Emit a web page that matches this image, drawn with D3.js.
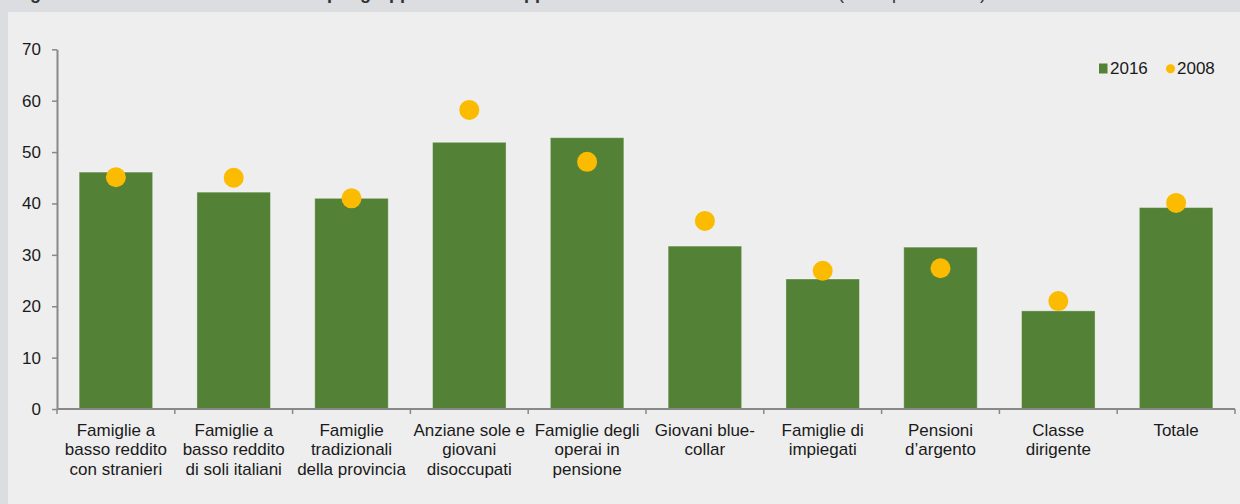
<!DOCTYPE html>
<html><head><meta charset="utf-8">
<script src="https://cdn.jsdelivr.net/npm/d3@7"></script>
<style>
body{margin:0;background:#dcdde0;overflow:hidden;}
svg{display:block;}
text{font-family:"Liberation Sans",Arial,sans-serif;}
</style>
</head><body>
<svg id="chart" width="1240" height="504"></svg>
<script>
const categories = [
  "Famiglie a|basso reddito|con stranieri",
  "Famiglie a|basso reddito|di soli italiani",
  "Famiglie|tradizionali|della provincia",
  "Anziane sole e|giovani|disoccupati",
  "Famiglie degli|operai in|pensione",
  "Giovani blue-|collar",
  "Famiglie di|impiegati",
  "Pensioni|d\u2019argento",
  "Classe|dirigente",
  "Totale"
];
const values2016 = [46.1, 42.2, 41.0, 51.9, 52.8, 31.7, 25.3, 31.5, 19.1, 39.2];
const values2008 = [45.1, 45.0, 41.0, 58.2, 48.1, 36.6, 26.9, 27.4, 21.0, 40.1];
const yTicks = [0, 10, 20, 30, 40, 50, 60, 70];
const seriesNames = ["2016", "2008"];
const titleParts = ["Figura 3 \u2013 Incidenza del rischio", "per gruppo sociale di appartenenza", "(valori percentuali)"];

const svg = d3.select("#chart");
const green = "#538135", gold = "#fbbb00", axisCol = "#888888", txt = "#1a1a1a";

// title band (clipped at the top edge, as in the reference)
svg.append("rect").attr("x",0).attr("y",0).attr("width",1240).attr("height",504).attr("fill","#dcdde0");
const tpos = [14, 327, 838];
titleParts.forEach((t,i)=>{
  svg.append("text").attr("x",tpos[i]).attr("y",-1)
    .attr("font-size",18).attr("font-weight", i<2 ? "bold" : "normal")
    .attr("fill","#333").text(t);
});
// panel
svg.append("rect").attr("x",8).attr("y",12).attr("width",1232).attr("height",492).attr("fill","#eeeeee");

const x = d3.scaleBand().domain(categories).range([57, 1235]).paddingInner(0.376).paddingOuter(0.188);
const y = d3.scaleLinear().domain([0, 70]).range([409, 49.3]);

// bars
svg.append("g").selectAll("rect").data(categories).join("rect")
  .attr("x", d => x(d)).attr("width", x.bandwidth())
  .attr("y", (d,i) => y(values2016[i])).attr("height", (d,i) => y(0) - y(values2016[i]))
  .attr("fill", green).attr("stroke", "rgba(255,255,255,0.35)").attr("stroke-width", 1);

// dots
svg.append("g").selectAll("circle").data(categories).join("circle")
  .attr("cx", d => x(d) + x.bandwidth()/2).attr("cy", (d,i) => y(values2008[i]))
  .attr("r", 10).attr("fill", gold);

// y axis
const yAxis = svg.append("g").attr("transform","translate(57,0)")
  .call(d3.axisLeft(y).tickValues(yTicks).tickSize(5).tickPadding(11).tickSizeOuter(0));
yAxis.select(".domain").attr("stroke", axisCol).attr("stroke-width", 2);
yAxis.selectAll(".tick line").attr("stroke", axisCol).attr("stroke-width", 1.5);
yAxis.selectAll(".tick text").attr("font-size", 17).attr("fill", txt).attr("font-family",'"Liberation Sans",Arial,sans-serif');

// x axis baseline
const step = x.step();
const xStart = x(categories[0]) - step*x.paddingOuter();
const xEnd = xStart + step*categories.length;
svg.append("line").attr("x1", 57).attr("x2", xEnd).attr("y1", y(0)).attr("y2", y(0))
  .attr("stroke", axisCol).attr("stroke-width", 2);
const bounds = d3.range(categories.length + 1).map(i => xStart + i*step);
svg.append("g").selectAll("line").data(bounds).join("line")
  .attr("x1", d => d).attr("x2", d => d).attr("y1", y(0)).attr("y2", y(0) + 5)
  .attr("stroke", axisCol).attr("stroke-width", 1.5);

// x labels
const lab = svg.append("g").selectAll("text").data(categories).join("text")
  .attr("text-anchor","middle").attr("font-size",17).attr("fill",txt)
  .attr("transform", d => `translate(${x(d)+x.bandwidth()/2},436)`);
lab.each(function(d){
  const t = d3.select(this);
  d.split("|").forEach((line,i)=>{
    t.append("tspan").attr("x",0).attr("y", i*19.3).text(line);
  });
});

// legend
const lg = svg.append("g");
lg.append("rect").attr("x",1099).attr("y",63.5).attr("width",8.5).attr("height",10).attr("fill",green);
lg.append("text").attr("x",1110).attr("y",74).attr("font-size",17).attr("fill",txt).text(seriesNames[0]);
lg.append("circle").attr("cx",1170.5).attr("cy",68.7).attr("r",4.5).attr("fill",gold);
lg.append("text").attr("x",1177).attr("y",74).attr("font-size",17).attr("fill",txt).text(seriesNames[1]);
</script>
</body></html>
